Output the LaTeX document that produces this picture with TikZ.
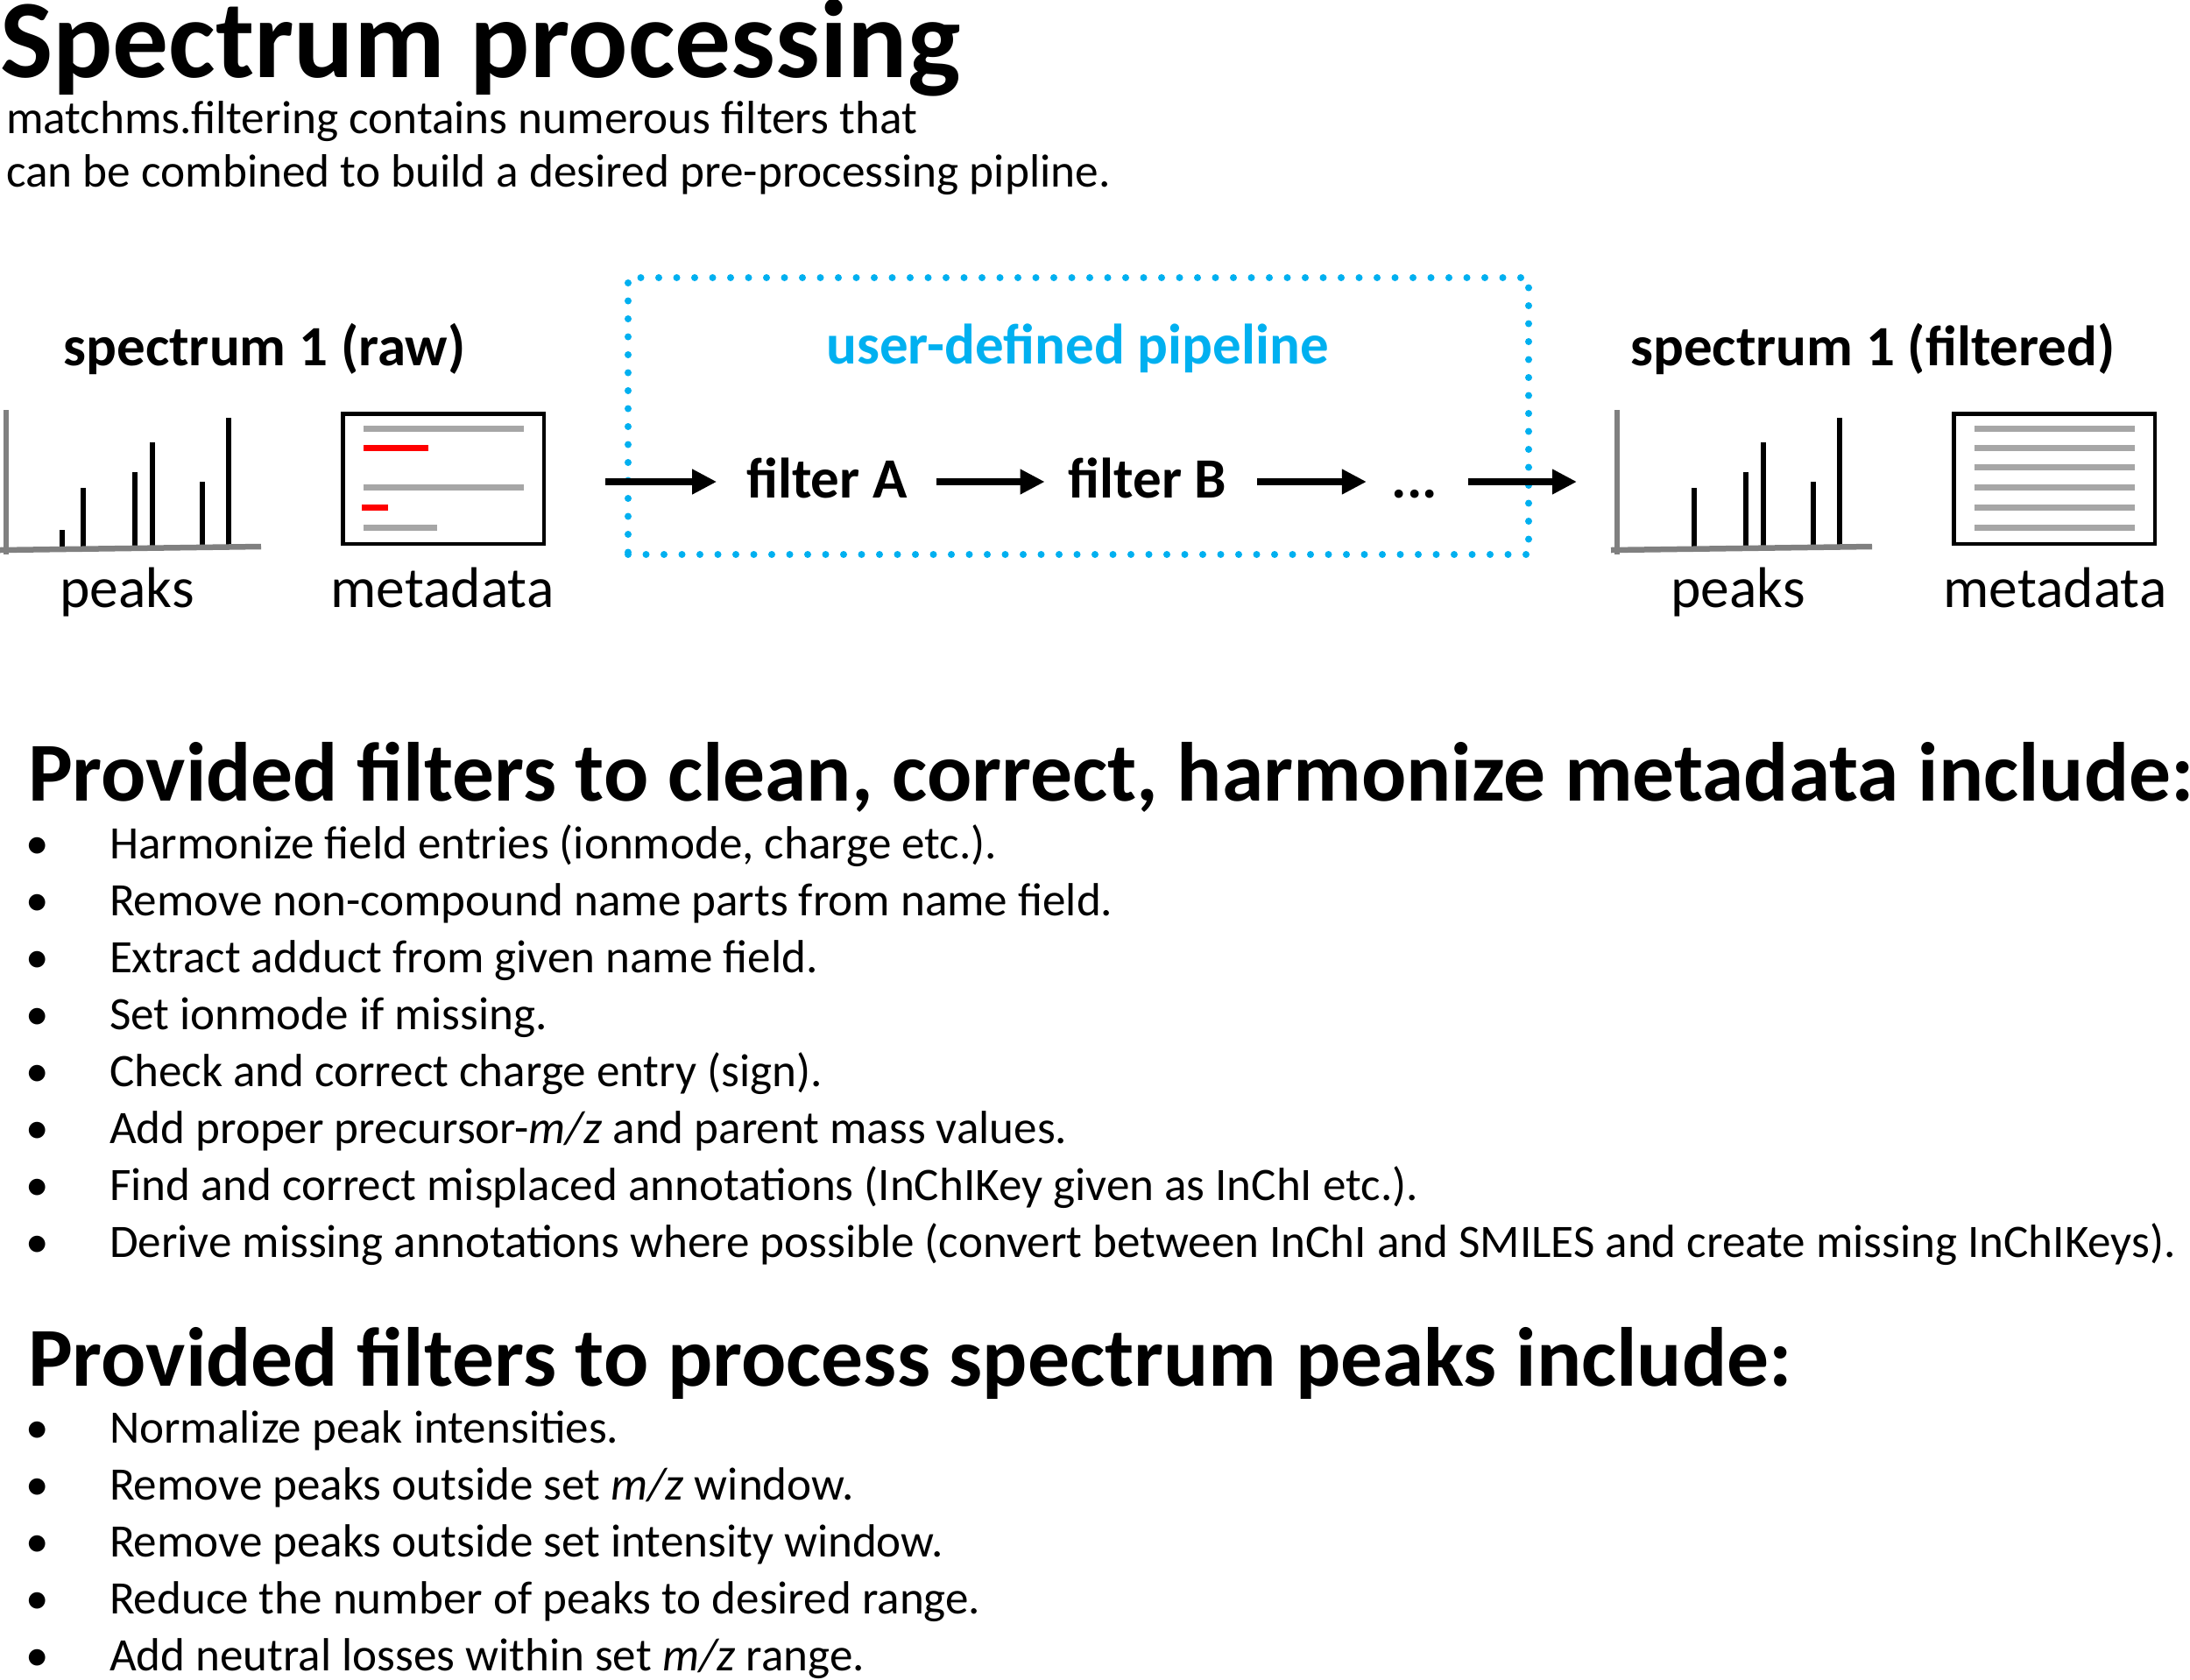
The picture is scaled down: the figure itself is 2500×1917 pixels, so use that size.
\documentclass[tikz,border=0pt]{standalone}
\usepackage{fontspec}
\setmainfont{Carlito}
\usetikzlibrary{arrows.meta}
\definecolor{pipeblue}{HTML}{00B0F0}
\definecolor{axisgray}{HTML}{808080}
\definecolor{linegray}{HTML}{A6A6A6}
\definecolor{mdred}{HTML}{FF0000}
\begin{document}
\begin{tikzpicture}[x=1pt,y=-1pt,
  txt/.style={inner sep=0pt, outer sep=0pt},
  lbl/.style={txt, anchor=base, font=\fontsize{65}{78}\selectfont\bfseries},
  sub/.style={txt, anchor=base, font=\fontsize{65.5}{78}\selectfont},
  arr/.style={line width=8pt, -{Triangle[length=28pt,width=27pt]}},
  axisln/.style={axisgray, line width=6.5pt},
  peak/.style={black, line width=6pt},
  mdbox/.style={draw, line width=4.5pt, minimum width=229.5pt, minimum height=148.5pt, inner sep=0pt, outer sep=0pt},
  mdline/.style={line width=7pt},
  item/.style={txt, anchor=base west, font=\fontsize{53.1}{64}\selectfont},
  bul/.style={txt, anchor=base, font=\fontsize{53}{64}\selectfont},
  head/.style={txt, anchor=base west, font=\fontsize{95.6}{114}\selectfont\bfseries},
]
\useasboundingbox[fill=white] (0,0) rectangle (2500,1917);

% title
\node[txt, anchor=base west, font=\fontsize{127.5}{150}\selectfont\bfseries] (title) at (0,88) {Spectrum processing};
\node[txt, anchor=base west, font=\fontsize{53.3}{64}\selectfont] (sub1) at (7,152) {matchms.filtering contains numerous filters that};
\node[txt, anchor=base west, font=\fontsize{53.3}{64}\selectfont] (sub2) at (7,213) {can be combined to build a desired pre-processing pipline.};

% spectrum labels
\node[lbl] (raw) at (302,417) {spectrum 1 (raw)};
\node[lbl] (filt) at (2138,417) {spectrum 1 (filtered)};
\node[lbl, text=pipeblue] (udp) at (1230,415) {user-defined pipeline};

% pipeline box
\node[draw=pipeblue, line width=8pt, dash pattern=on 0pt off 20.5pt, line cap=round,
      minimum width=1028pt, minimum height=316pt, inner sep=0pt] (pipe) at (1231,475) {};

% raw peaks
\foreach \x/\t in {71/605, 95/557, 154/539, 174/505, 231/550, 261/477}
  \draw[peak] (\x,625) -- (\x,\t);
\draw[axisln] (7,468) -- (7,633);
\draw[axisln] (0,628) -- (298,624);

% raw metadata
\node[mdbox] (meta1) at (506,546.5) {};
\draw[mdline, linegray] (415,489) -- (598,489);
\draw[mdline, mdred] (415,511) -- (489,511);
\draw[mdline, linegray] (415,556) -- (598,556);
\draw[mdline, mdred] (413,579) -- (443,579);
\draw[mdline, linegray] (415,602) -- (499,602);

\node[sub] (pk1) at (145,693) {peaks};
\node[sub] (md1) at (505,693) {metadata};

% filtered peaks
\begin{scope}[xshift=1839pt]
\foreach \x/\t in {95/557, 154/539, 174/505, 231/550, 261/477}
  \draw[peak] (\x,625) -- (\x,\t);
\draw[axisln] (7,468) -- (7,633);
\draw[axisln] (0,628) -- (298,624);
\end{scope}

% filtered metadata
\node[mdbox] (meta2) at (2345,546.5) {};
\foreach \y in {489,511,533,556,579,602}
  \draw[mdline, linegray] (2254,\y) -- (2437,\y);

\node[sub] (pk2) at (1984,693) {peaks};
\node[sub] (md2) at (2346,693) {metadata};

% filters
\node[lbl] (fA) at (944,568) {filter A};
\node[lbl] (fB) at (1310,568) {filter B};
\node[lbl] (dots) at (1615,568) {...};

\coordinate (ay) at (0,550);
\coordinate (a1s) at (691,550);
\coordinate (a4e) at (1800,550);
\draw[arr, shorten >=34pt] (a1s) -- (fA.west |- ay);
\draw[arr, shorten <=33pt, shorten >=27pt] (fA.east |- ay) -- (fB.west |- ay);
\draw[arr, shorten <=35pt, shorten >=29pt] (fB.east |- ay) -- (dots.west |- ay);
\draw[arr, shorten <=35pt] (dots.east |- ay) -- (a4e);

% metadata filters
\node[head] (h1) at (32,914) {Provided filters to clean, correct, harmonize metadata include:};
\foreach \i/\t [count=\k from 0] in {
  {Harmonize field entries (ionmode, charge etc.).},
  {Remove non-compound name parts from name field.},
  {Extract adduct from given name field.},
  {Set ionmode if missing.},
  {Check and correct charge entry (sign).},
  {Add proper precursor-\textit{m/z} and parent mass values.},
  {Find and correct misplaced annotations (InChIKey given as InChI etc.).},
  {Derive missing annotations where possible (convert between InChI and SMILES and create missing InChIKeys).}}
{
  \node[bul] (mb\k) at (43,980+65*\k) {•};
  \node[item] (mi\k) at (125,980+65*\k) {\i};
}

% peak filters
\node[head] (h2) at (32,1582) {Provided filters to process spectrum peaks include:};
\foreach \i [count=\k from 0] in {
  {Normalize peak intensities.},
  {Remove peaks outside set \textit{m/z} window.},
  {Remove peaks outside set intensity window.},
  {Reduce the number of peaks to desired range.},
  {Add neutral losses within set \textit{m/z} range.}}
{
  \node[bul] (pb\k) at (43,1647+65*\k) {•};
  \node[item] (pi\k) at (125,1647+65*\k) {\i};
}
\end{tikzpicture}
\end{document}
